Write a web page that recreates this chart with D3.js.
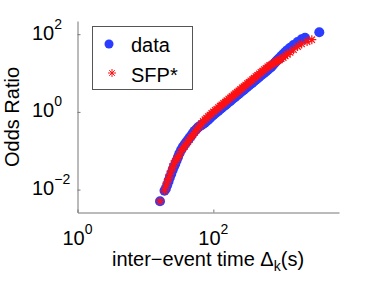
<!DOCTYPE html>
<html>
<head>
<meta charset="utf-8">
<script src="https://cdn.jsdelivr.net/npm/d3@7"></script>
<style>
body { margin: 0; background: #fff; }
text { font-family: "Liberation Sans", Arial, sans-serif; fill: #000; }
</style>
</head>
<body>
<script>
// data (blue circles): inter-event time (s) vs odds ratio
var dataX = [16.4, 19.1,
	20.0, 20.9, 21.9, 22.9, 24.0, 25.1, 26.3, 27.5, 28.8, 30.2, 31.6,
	33.5, 35.5, 37.6, 39.8, 42.2, 44.7, 47.3, 50.1, 53.1, 56.2,
	59.6, 63.1, 66.8, 70.8, 75.0, 79.4, 84.1, 89.1, 94.4, 100,
	106, 112, 119, 126, 133, 141, 150, 158, 168, 178,
	188, 200, 211, 224, 237, 251, 266, 282, 299, 316,
	335, 355, 376, 398, 422, 447, 473, 501, 531, 562,
	596, 631, 668, 708, 750, 794, 841, 891, 944, 1000,
	1072, 1148, 1230, 1349, 1514, 1738, 1995, 2239, 3631];
var dataY = [0.00501, 0.00933,
	0.0105, 0.0129, 0.0162, 0.0204, 0.0251, 0.0316, 0.0389, 0.0457, 0.0562, 0.0692, 0.0851,
	0.104, 0.124, 0.143, 0.164, 0.188, 0.216, 0.248, 0.285, 0.324, 0.359,
	0.400, 0.427, 0.457, 0.490, 0.525, 0.575, 0.631, 0.692, 0.759, 0.832,
	0.912, 0.977, 1.07, 1.17, 1.26, 1.38, 1.48, 1.62, 1.78, 1.91,
	2.09, 2.29, 2.45, 2.69, 2.88, 3.16, 3.47, 3.72, 4.07, 4.47,
	4.79, 5.25, 5.62, 6.17, 6.76, 7.24, 7.94, 8.71, 9.33, 10.2,
	11.0, 12.0, 13.2, 14.1, 15.8, 17.8, 20.0, 22.4, 24.5, 27.5,
	30.9, 34.7, 38.9, 44.7, 52.5, 63.1, 74.1, 81.3, 112];
// SFP* model (red asterisks)
var sfpX = [16.4, 19.1,
	20.0, 20.9, 21.9, 22.9, 24.0, 25.1, 26.3, 27.5, 28.8, 30.2, 31.6,
	33.5, 35.5, 37.6, 39.8, 42.2, 44.7, 47.3, 50.1, 53.1, 56.2,
	59.6, 63.1, 66.8, 70.8, 75.0, 79.4, 84.1, 89.1, 94.4, 100,
	106, 112, 119, 126, 133, 141, 150, 158, 168, 178,
	188, 200, 211, 224, 237, 251, 266, 282, 299, 316,
	335, 355, 376, 398, 422, 447, 473, 501, 531, 562,
	596, 631, 668, 708, 750, 794, 841, 891, 944, 1000,
	1072, 1148, 1230, 1349, 1514, 1738, 1995, 2399, 2818];
var sfpY = [0.00501, 0.00933,
	0.0123, 0.0155, 0.0195, 0.0245, 0.0302, 0.0380, 0.0468, 0.0537, 0.0603, 0.0676, 0.0776,
	0.0955, 0.112, 0.129, 0.148, 0.170, 0.195, 0.224, 0.257, 0.295, 0.339,
	0.389, 0.437, 0.501, 0.575, 0.631, 0.692, 0.759, 0.832, 0.912, 1.00,
	1.10, 1.17, 1.29, 1.41, 1.51, 1.66, 1.78, 1.95, 2.14, 2.29,
	2.51, 2.75, 2.95, 3.24, 3.47, 3.80, 4.17, 4.47, 4.90, 5.37,
	5.75, 6.31, 6.76, 7.41, 8.13, 8.71, 9.55, 10.5, 11.2, 12.3,
	13.2, 14.5, 15.5, 16.2, 17.4, 18.6, 19.5, 20.9, 21.9, 23.4,
	25.1, 27.5, 30.2, 33.9, 39.8, 47.9, 56.2, 64.6, 72.4];
// ticks
var xTicks = [1, 100];
var xTickExp = ["0", "2"];
var yTicks = [0.01, 1, 100];
var yTickExp = ["\u22122", "0", "2"];
var legendLabels = ["data", "SFP*"];

var w = 374, h = 281;
var blue = "#2a3cff", red = "#ff1010";

var svg = d3.select("body").append("svg")
	.attr("width", w)
	.attr("height", h);

var x = d3.scaleLog()
	.domain([1, Math.pow(10, 3.85)])
	.range([77.5, 339]);
var y = d3.scaleLog()
	.domain([Math.pow(10, -2.59), Math.pow(10, 2.34)])
	.range([212.5, 21]);

// axes, inward ticks, no box
svg.append("g")
	.attr("transform", "translate(0,212.5)")
	.call(d3.axisBottom(x).tickValues(xTicks).tickSizeInner(-3).tickSizeOuter(0).tickFormat(""));
svg.append("g")
	.attr("transform", "translate(77.5,0)")
	.call(d3.axisLeft(y).tickValues(yTicks).tickSizeInner(-3).tickSizeOuter(0).tickFormat(""));
svg.selectAll(".domain, .tick line")
	.style("stroke", "#777")
	.style("stroke-width", 1);

// x tick labels
xTicks.forEach(function(d, i) {
	var t = svg.append("text")
		.attr("x", x(d))
		.attr("y", 245)
		.attr("text-anchor", "middle")
		.style("font-size", "20px");
	t.append("tspan").text("10");
	t.append("tspan").attr("dy", -11).style("font-size", "14px").text(xTickExp[i]);
});

// y tick labels
yTicks.forEach(function(d, i) {
	var t = svg.append("text")
		.attr("x", 32)
		.attr("y", y(d) + 5.5)
		.style("font-size", "20px");
	t.append("tspan").text("10");
	t.append("tspan").attr("dy", -11).style("font-size", "14px").text(yTickExp[i]);
});

// axis titles
var xl = svg.append("text")
	.attr("x", 208)
	.attr("y", 266)
	.attr("text-anchor", "middle")
	.style("font-size", "20px");
xl.append("tspan").text("inter\u2212event time \u0394");
xl.append("tspan").attr("dy", 5).style("font-size", "14px").text("k");
xl.append("tspan").attr("dy", -5).text("(s)");

svg.append("text")
	.attr("transform", "translate(19,117) rotate(-90)")
	.attr("text-anchor", "middle")
	.style("font-size", "20px")
	.text("Odds Ratio");

// data points
var points = dataX.map(function(d, i) { return [d, dataY[i]]; });
svg.append("g").selectAll("circle")
	.data(points)
	.enter()
	.append("circle")
	.attr("cx", function(d) { return x(d[0]); })
	.attr("cy", function(d) { return y(d[1]); })
	.attr("r", 5)
	.style("fill", blue);

// asterisk marker
function star(s) {
	var a = s * 0.7;
	return "M" + (-s) + ",0L" + s + ",0M0," + (-s) + "L0," + s +
		"M" + (-a) + "," + (-a) + "L" + a + "," + a +
		"M" + (-a) + "," + a + "L" + a + "," + (-a);
}

var model = sfpX.map(function(d, i) { return [d, sfpY[i]]; });
svg.append("g").selectAll("path")
	.data(model)
	.enter()
	.append("path")
	.attr("transform", function(d) { return "translate(" + x(d[0]) + "," + y(d[1]) + ")"; })
	.attr("d", star(4.5))
	.style("fill", "none")
	.style("stroke", red)
	.style("stroke-width", 1.2);

// legend
var lg = svg.append("g");
lg.append("rect")
	.attr("x", 92.5)
	.attr("y", 26.5)
	.attr("width", 100)
	.attr("height", 63)
	.style("fill", "#fff")
	.style("stroke", "#555")
	.style("stroke-width", 1);
lg.append("circle")
	.attr("cx", 109)
	.attr("cy", 44)
	.attr("r", 4.5)
	.style("fill", blue);
lg.append("path")
	.attr("transform", "translate(112,73)")
	.attr("d", star(4))
	.style("fill", "none")
	.style("stroke", red);
lg.selectAll("text")
	.data(legendLabels)
	.enter()
	.append("text")
	.attr("x", 131)
	.attr("y", function(d, i) { return 52 + i * 30; })
	.style("font-size", "20px")
	.text(function(d) { return d; });
</script>
</body>
</html>
